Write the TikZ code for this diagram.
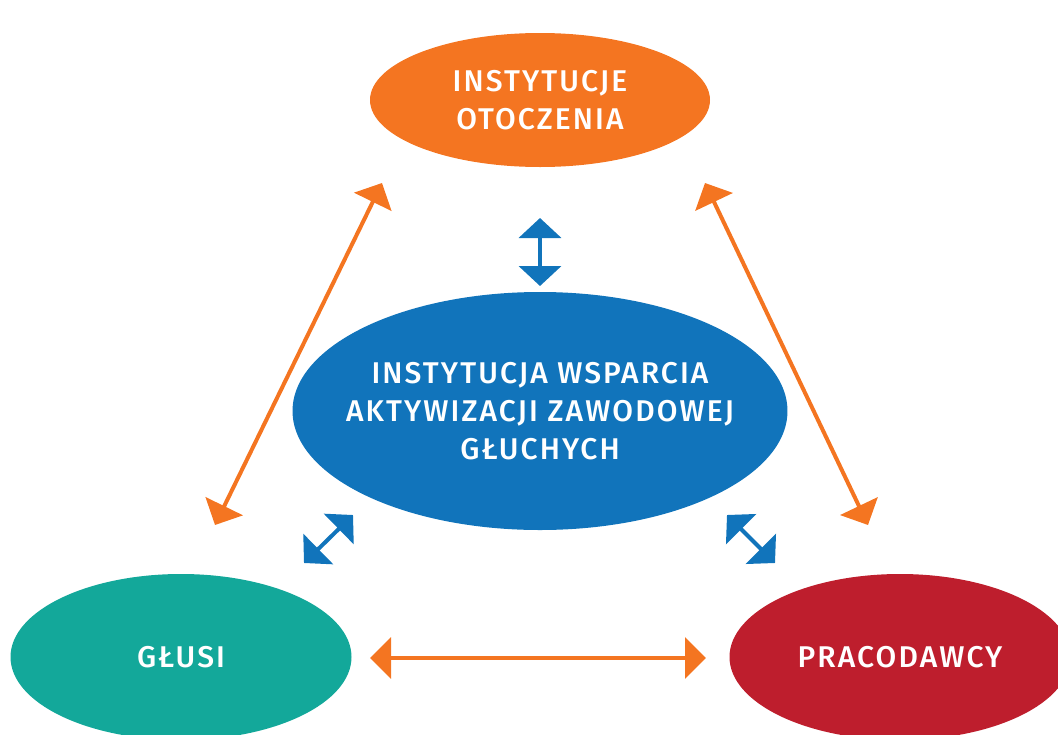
\documentclass[tikz,border=0pt]{standalone}
\usepackage{fontspec}
\setsansfont{Fira Sans Medium}[LetterSpace=7]
\usetikzlibrary{arrows.meta, shapes.geometric}

\definecolor{otoczenie}{HTML}{F47521}
\definecolor{wsparcie}{HTML}{1174BB}
\definecolor{glusi}{HTML}{13A89A}
\definecolor{pracodawcy}{HTML}{BE1E2D}

\begin{document}
\begin{tikzpicture}
        [x=1pt, y=-1pt,
         every node/.style={
             ellipse,
             inner sep=0pt,
             text=white,
             align=center,
             font=\sffamily\fontsize{30}{38}\selectfont
         },
         orangelink/.style={
             otoczenie,
             {Triangle[length=21pt, width=41pt]}-{Triangle[length=21pt, width=41pt]},
             line width=4pt
         },
         bluelink/.style={
             wsparcie,
             {Triangle[length=20pt, width=42pt]}-{Triangle[length=20pt, width=42pt]},
             line width=4pt
         }
         ]
        \useasboundingbox (0,0) rectangle (1058,734);
        \node (inst) [fill=otoczenie, minimum width=340pt, minimum height=134pt]
            at (540,100) {INSTYTUCJE\\OTOCZENIA};
        \node (wsp) [fill=wsparcie, inner xsep=-19pt, minimum width=494pt, minimum height=238pt]
            at (540,411) {INSTYTUCJA WSPARCIA\\AKTYWIZACJI ZAWODOWEJ\\GŁUCHYCH};
        \node (gl) [fill=glusi, minimum width=341pt, minimum height=166pt]
            at (181,657) {GŁUSI};
        \node (pr) [fill=pracodawcy, minimum width=341pt, minimum height=166pt]
            at (900,657) {PRACODAWCY};

        % arrow ends
        \coordinate (inst-l) at (382,183);
        \coordinate (gl-t) at (215,525);
        \coordinate (inst-r) at (705,183);
        \coordinate (pr-t) at (868,525);
        \coordinate (gl-r) at (370,658);
        \coordinate (pr-l) at (706,658);
        \coordinate (inst-b) at (540,218);
        \coordinate (wsp-t) at (540,286);
        \coordinate (wsp-bl) at (353,515);
        \coordinate (gl-tr) at (304,563);
        \coordinate (wsp-br) at (727,515);
        \coordinate (pr-tl) at (775,563);

        \draw[orangelink] (gl-t) -- (inst-l);
        \draw[orangelink] (inst-r) -- (pr-t);
        \draw[orangelink] (gl-r) -- (pr-l);
        \draw[bluelink] (inst-b) -- (wsp-t);
        \draw[bluelink] (gl-tr) -- (wsp-bl);
        \draw[bluelink] (wsp-br) -- (pr-tl);
    \end{tikzpicture}
\end{document}
